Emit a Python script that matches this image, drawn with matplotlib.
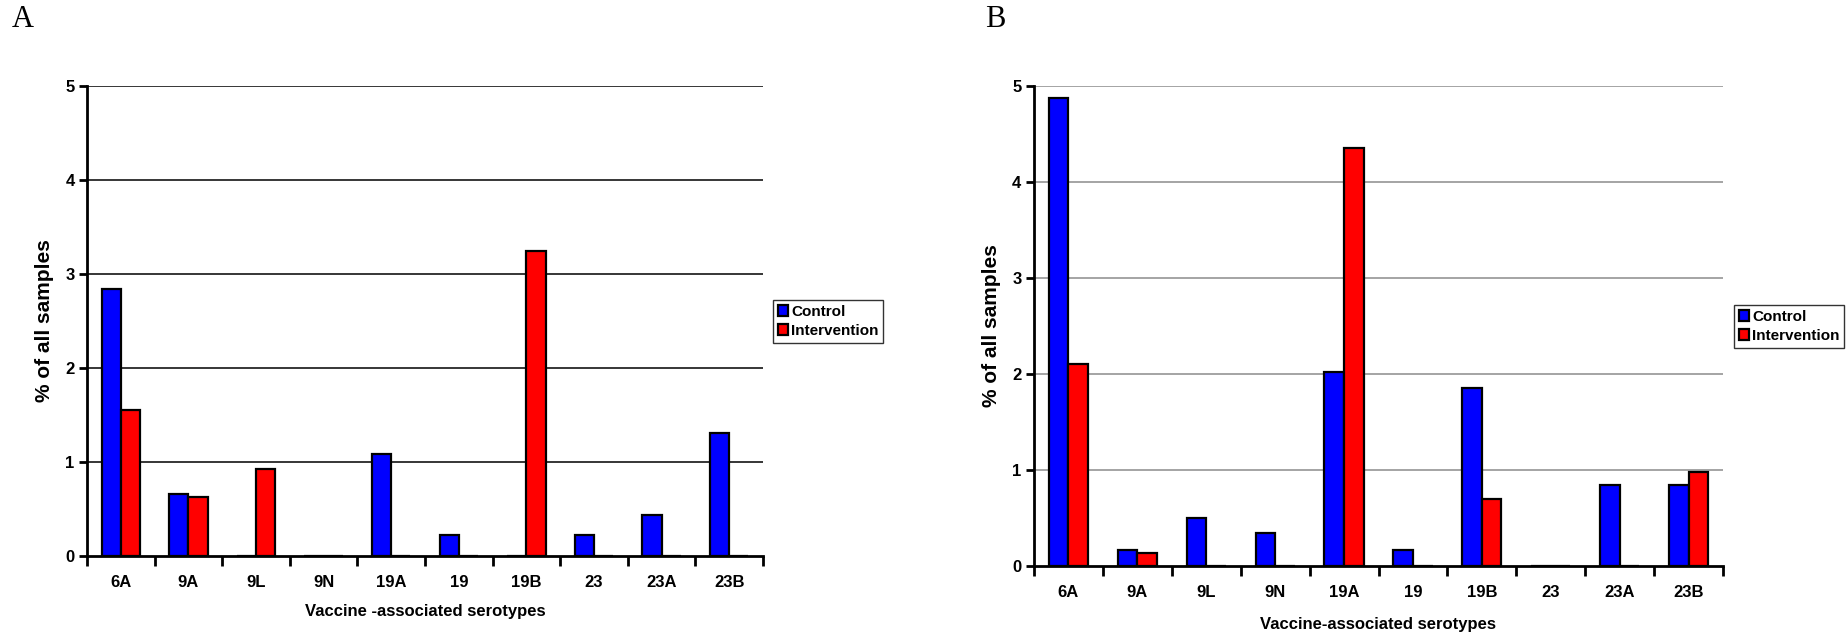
import matplotlib
matplotlib.use('agg')
import matplotlib.pyplot as plt
import numpy as np

serotypes = ['6A', '9A', '9L', '9N', '19A', '19', '19B', '23', '23A', '23B']

# Panel A
control_a = [2.84, 0.66, 0.0, 0.0, 1.09, 0.22, 0.0, 0.22, 0.44, 1.31]
intervention_a = [1.55, 0.63, 0.93, 0.0, 0.0, 0.0, 3.25, 0.0, 0.0, 0.0]

# Panel B
control_b = [4.87, 0.17, 0.50, 0.34, 2.02, 0.17, 1.85, 0.0, 0.84, 0.84]
intervention_b = [2.10, 0.14, 0.0, 0.0, 4.35, 0.0, 0.70, 0.0, 0.0, 0.98]

W, H = 1847, 637
fig = plt.figure(figsize=(W / 100, H / 100), dpi=100)


def panel(rect, control, intervention, letter, letter_xy, xlabel, grid_color,
          legend_xy, fam, xlabel_pad):
    ax = fig.add_axes(rect)
    x = np.arange(len(serotypes))
    bw = 0.285
    ax.bar(x - bw / 2, control, bw, color='#0000ff', edgecolor='black', linewidth=1.6,
           label='Control', zorder=3)
    ax.bar(x + bw / 2, intervention, bw, color='#ff0000', edgecolor='black', linewidth=1.6,
           label='Intervention', zorder=3)
    ax.set_xlim(-0.5, len(serotypes) - 0.5)
    ax.set_ylim(0, 5)
    for yv in range(1, 6):
        ax.axhline(yv, color=grid_color, linewidth=1.1, zorder=1)
    for s in ['top', 'right']:
        ax.spines[s].set_visible(False)
    for s in ['left', 'bottom']:
        ax.spines[s].set_linewidth(2)
        ax.spines[s].set_zorder(4)
    ax.set_yticks(range(0, 6))
    ax.set_yticklabels([str(v) for v in range(0, 6)], fontsize=12, fontweight='bold', family=fam)
    ax.tick_params(axis='y', length=6, width=2, pad=3)
    # x ticks at group boundaries, labels at centers
    ax.set_xticks(np.arange(-0.5, len(serotypes)), minor=False)
    ax.set_xticklabels([])
    ax.set_xticks(x, minor=True)
    ax.set_xticklabels(serotypes, minor=True, fontsize=12, fontweight='bold', family=fam)
    ax.tick_params(axis='x', which='major', length=7, width=2, direction='out')
    ax.tick_params(axis='x', which='minor', length=0, pad=14)
    ax.set_xlabel(xlabel, fontsize=12, fontweight='bold', family=fam, labelpad=xlabel_pad)
    ax.set_ylabel('% of all samples', fontsize=15, fontweight='bold',
                  family='Liberation Sans', labelpad=8)
    fig.text(letter_xy[0], letter_xy[1], letter, fontsize=22, family='Liberation Serif',
             va='top', ha='left')
    leg = fig.legend(*ax.get_legend_handles_labels(), loc='upper left',
                     bbox_to_anchor=legend_xy, bbox_transform=fig.transFigure,
                     frameon=True, fancybox=False, edgecolor='black',
                     prop={'family': fam, 'weight': 'bold', 'size': 11},
                     handlelength=0.7, handleheight=0.7, handletextpad=0.2,
                     borderpad=0.3, labelspacing=0.35, borderaxespad=0)
    leg.get_frame().set_linewidth(1)
    return ax


panel([87 / W, 1 - 556 / H, (763 - 87) / W, (556 - 86) / H],
      control_a, intervention_a, 'A', (12 / W, 1 - 5 / H),
      'Vaccine -associated serotypes', 'black', (773 / W, 1 - 300 / H),
      ['Liberation Sans'], 10)

panel([1034 / W, 1 - 566 / H, (1723 - 1034) / W, (566 - 86) / H],
      control_b, intervention_b, 'B', (985 / W, 1 - 5 / H),
      'Vaccine-associated serotypes', '#8c8c8c', (1734 / W, 1 - 305 / H),
      ['Liberation Sans Narrow', 'Liberation Sans'], 12)

fig.savefig('out.png', dpi=100)
